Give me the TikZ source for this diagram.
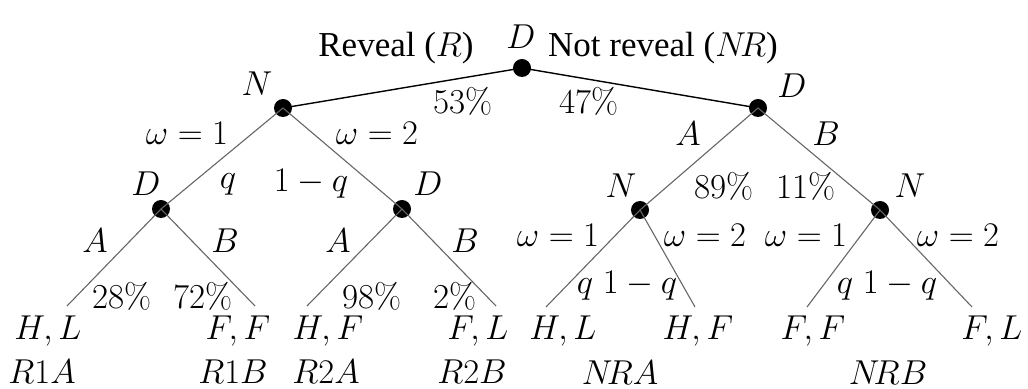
\documentclass[tikz,border=0pt]{standalone}
\usepackage{fontspec}
\setmainfont{Liberation Serif}
\newfontfamily\lmrfont{Latin Modern Roman}
\begin{document}
\begin{tikzpicture}[x=0.5pt,y=-0.5pt,
  dot/.style={circle,fill=black,inner sep=0pt,minimum size=9pt},
  lbl/.style={inner sep=0pt,font=\fontsize{17.5}{21}\selectfont},
  pct/.style={inner sep=0pt,font=\fontsize{17.5}{21}\selectfont\lmrfont},
  br/.style={draw=black!60,line width=0.55pt},
  topbr/.style={draw=black,line width=0.7pt}]
\useasboundingbox (0,0) rectangle (1028,389);
% decision / nature nodes
\node[dot] (root) at (522,68) {};
\node[dot] (nL) at (283,108) {};
\node[dot] (dR) at (758,108) {};
\node[dot] (d1) at (161,209) {};
\node[dot] (d2) at (402,209) {};
\node[dot] (n1) at (640,210) {};
\node[dot] (n2) at (880,210) {};
% leaf ends
\coordinate (l1) at (67,306);
\coordinate (l2) at (255,306);
\coordinate (l3) at (307,306);
\coordinate (l4) at (496,306);
\coordinate (l5) at (546,307);
\coordinate (l6) at (695,307);
\coordinate (l7) at (807,307);
\coordinate (l8) at (972,307);
% branches
\draw[topbr] (root.center) -- (nL.center);
\draw[topbr] (root.center) -- (dR.center);
\draw[br] (nL.center) -- (d1.center);
\draw[br] (nL.center) -- (d2.center);
\draw[br] (dR.center) -- (n1.center);
\draw[br] (dR.center) -- (n2.center);
\draw[br] (d1.center) -- (l1);
\draw[br] (d1.center) -- (l2);
\draw[br] (d2.center) -- (l3);
\draw[br] (d2.center) -- (l4);
\draw[br] (n1.center) -- (l5);
\draw[br] (n1.center) -- (l6);
\draw[br] (n2.center) -- (l7);
\draw[br] (n2.center) -- (l8);
% node labels
\node[lbl] (troot) at (521,37) {$D$};
\node[lbl] (tnL) at (257,84) {$N$};
\node[lbl] (tdR) at (792,86) {$D$};
\node[lbl] (td1) at (146,184) {$D$};
\node[lbl] (td2) at (428,184) {$D$};
\node[lbl] (tn1) at (621,186) {$N$};
\node[lbl] (tn2) at (910,186) {$N$};
% top branch labels
\node[lbl] (rev) at (396,48) {Reveal ($R$)};
\node[lbl] (nrev) at (663,48) {Not reveal ($N\!R$)};
\node[pct] (p53) at (463,101) {53\%};
\node[pct] (p47) at (589,101) {47\%};
% reveal subtree labels
\node[lbl] (w1a) at (187,133) {$\omega=1$};
\node[lbl] (w2a) at (377,133) {$\omega=2$};
\node[lbl] (qa) at (228,184) {$q$};
\node[lbl] (qqa) at (311,184) {$1-q$};
\node[lbl] (a1) at (95,241) {$A$};
\node[lbl] (b1) at (225,241) {$B$};
\node[lbl] (a2) at (338,241) {$A$};
\node[lbl] (b2) at (465,241) {$B$};
\node[pct] (p28) at (122,296) {28\%};
\node[pct] (p72) at (203,296) {72\%};
\node[pct] (p98) at (372,296) {98\%};
\node[pct] (p2) at (455,296) {2\%};
% not reveal subtree labels
\node[lbl] (aR) at (688,134) {$A$};
\node[lbl] (bR) at (826,134) {$B$};
\node[pct] (p89) at (724,186) {89\%};
\node[pct] (p11) at (806,186) {11\%};
\node[lbl] (w1b) at (558,235) {$\omega=1$};
\node[lbl] (w2b) at (705,235) {$\omega=2$};
\node[lbl] (w1c) at (806,235) {$\omega=1$};
\node[lbl] (w2c) at (958,235) {$\omega=2$};
\node[lbl] (qb) at (627,286) {$q\;1-q$};
\node[lbl] (qc) at (887,286) {$q\;1-q$};
% payoffs
\node[lbl] (o1) at (48,331) {$H,L$};
\node[lbl] (o2) at (238,331) {$F,F$};
\node[lbl] (o3) at (328,331) {$H,F$};
\node[lbl] (o4) at (478,331) {$F,L$};
\node[lbl] (o5) at (563,331) {$H,L$};
\node[lbl] (o6) at (698,331) {$H,F$};
\node[lbl] (o7) at (813,331) {$F,F$};
\node[lbl] (o8) at (992,331) {$F,L$};
% outcome names
\node[lbl] (r1a) at (42,372) {$R1A$};
\node[lbl] (r1b) at (233,372) {$R1B$};
\node[lbl] (r2a) at (326,372) {$R2A$};
\node[lbl] (r2b) at (472,372) {$R2B$};
\node[lbl] (nra) at (620,373) {$N\!RA$};
\node[lbl] (nrb) at (888,373) {$N\!RB$};
\end{tikzpicture}
\end{document}
